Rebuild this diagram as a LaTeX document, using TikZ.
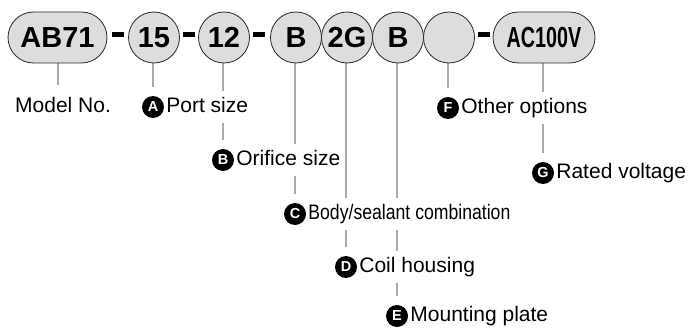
\documentclass[tikz,border=0pt]{standalone}
\usepackage{fontspec}
\setmainfont{Liberation Sans}
\newfontfamily\narrowfont[FakeStretch=0.68]{Liberation Sans}
\newfontfamily\semifont[FakeStretch=0.84]{Liberation Sans}
\usetikzlibrary{positioning,backgrounds}
\definecolor{capfill}{RGB}{221,221,221}
\definecolor{leadgray}{RGB}{170,170,170}
\definecolor{rimgray}{RGB}{40,40,40}

\begin{document}
\begin{tikzpicture}[x=1pt, y=-1pt,
        part/.style={
            draw=rimgray,
            line width=0.8pt,
            fill=capfill,
            minimum height=51pt,
            inner sep=0pt,
            font=\fontsize{29}{29}\selectfont\bfseries
        },
        disc/.style={part, circle, minimum size=51pt},
        pill/.style={part, rounded corners=25.5pt, minimum width=#1},
        hyph/.style={fill=black, minimum width=12pt, minimum height=5pt, inner sep=0pt},
        badge/.style={
            circle,
            fill=black,
            minimum size=22pt,
            inner sep=0pt,
            text=white,
            font=\fontsize{14.5}{14.5}\selectfont\bfseries
        },
        caption/.style={
            fill=white,
            inner xsep=2pt,
            inner ysep=6pt,
            text height=15pt,
            text depth=4.5pt,
            font=\fontsize{21}{21}\selectfont
        },
        lead/.style={draw=leadgray, line width=2pt, shorten >=9pt}
    ]
        \useasboundingbox (0,0) rectangle (693,329);

        % model code
        \node[pill=99pt] (cModel) at (57.5,37.5) {AB71};
        \node[hyph] (h1) at (117.5,34.5) {};
        \node[disc] (cPort) at (154,37.5) {15};
        \node[hyph] (h2) at (189,34.5) {};
        \node[disc] (cOrif) at (224,37.5) {12};
        \node[hyph] (h3) at (259,34.5) {};
        \node[disc] (cBody) at (296,37.5) {B};
        \node[disc] (cCoil) at (347,37.5) {2G};
        \node[disc] (cPlate) at (398,37.5) {B};
        \node[disc] (cOpt) at (449,37.5) {};
        \node[hyph] (h4) at (484,34.5) {};
        \node[pill=102pt] (cVolt) at (544,37.5) {\narrowfont AC100V};

        % captions
        \node[caption, anchor=west] (lModel) at (13,107) {Model No.};
        \node[badge] (bA) at (153,107) {A};
        \node[caption, right=0pt of bA] (lA) {Port size};
        \node[badge] (bB) at (223,160) {B};
        \node[caption, right=0pt of bB] (lB) {Orifice size};
        \node[badge] (bC) at (295,214) {C};
        \node[caption, right=0pt of bC] (lC) {\semifont Body/sealant combination};
        \node[badge] (bD) at (346,267) {D};
        \node[caption, right=0pt of bD] (lD) {Coil housing};
        \node[badge] (bE) at (397,316) {E};
        \node[caption, right=0pt of bE] (lE) {Mounting plate};
        \node[badge] (bF) at (448,108) {F};
        \node[caption, right=0pt of bF] (lF) {Other options};
        \node[badge] (bG) at (543,173) {G};
        \node[caption, right=0pt of bG] (lG) {Rated voltage};

        \begin{scope}[on background layer]
            \draw[lead, shorten >=6pt] (cModel.south) -- (cModel.south |- lModel.north);
            \draw[lead] (cPort.south -| bA) -- (bA);
            \draw[lead] (cOrif.south -| bB) -- (bB);
            \draw[lead] (cBody.south -| bC) -- (bC);
            \draw[lead] (cCoil.south -| bD) -- (bD);
            \draw[lead] (cPlate.south -| bE) -- (bE);
            \draw[lead] (cOpt.south -| bF) -- (bF);
            \draw[lead] (cVolt.south -| bG) -- (bG);
        \end{scope}
    \end{tikzpicture}
\end{document}
